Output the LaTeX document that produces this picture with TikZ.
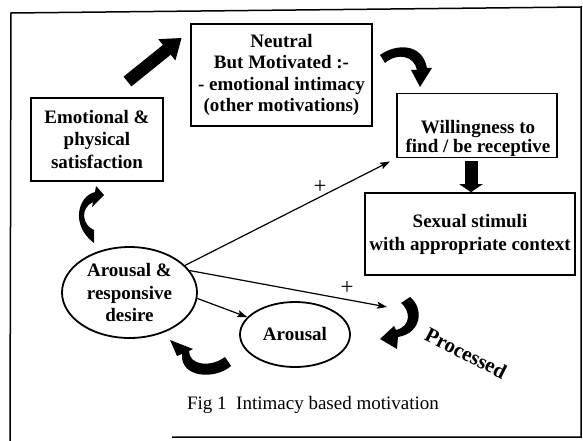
\documentclass[tikz,border=0pt]{standalone}
\usepackage{fontspec}
\setmainfont{Liberation Serif}
\usetikzlibrary{arrows.meta,shapes.geometric,calc}
\begin{document}
\begin{tikzpicture}[x=1pt,y=-1pt,
  box/.style={draw, line width=1.6pt, rectangle, inner sep=0pt, align=center, font=\bfseries\fontsize{19}{22}\selectfont},
  boxtext/.style={inner sep=0pt, align=center, font=\bfseries\fontsize{19}{19}\selectfont},
  oval/.style={draw, line width=1.8pt, ellipse, inner sep=0pt, align=center, font=\bfseries\fontsize{19}{22.5}\selectfont},
  conn/.style={line width=1.2pt, -{Stealth[length=10pt,width=7pt,inset=2pt]}},
  bigarrow/.style={line width=12.5pt, -{Triangle[length=19pt,width=26pt]}},
  downarrow/.style={line width=13pt, -{Triangle[length=8pt,width=23pt]}},
  curl/.style={fill=black},
  plainlabel/.style={inner sep=0pt, font=\fontsize{19}{22}\selectfont},
  pluslabel/.style={inner sep=0pt, font=\fontsize{23}{24}\selectfont},
]
\useasboundingbox (0,0) rectangle (583,441);
% frame
\draw[line width=1.5pt] (10,441) -- (11,13) -- (581,7) -- (581,437) -- (172,437);
% nodes
\node[box, minimum width=181pt, minimum height=102pt, font=\bfseries\fontsize{19}{21.5}\selectfont] (neutral) at (281.5,75)
  {Neutral\\But Motivated :-\\- emotional intimacy\\(other motivations)};
\node[box, minimum width=132pt, minimum height=83pt, font=\bfseries\fontsize{19}{22.5}\selectfont] (emo) at (97,139.5)
  {Emotional \&\\physical\\satisfaction};
\node[box, minimum width=160pt, minimum height=64pt] (will) at (477,125.5) {};
\node[boxtext] (willtext) at (478,138) {Willingness to\\find / be receptive};
\node[box, minimum width=210pt, minimum height=82pt, font=\bfseries\fontsize{19}{23}\selectfont] (stim) at (470,234)
  {Sexual stimuli\\with appropriate context};
\node[oval, minimum width=135pt, minimum height=91pt] (desire) at (129.5,292.5)
  {Arousal \&\\responsive\\desire};
\node[oval, minimum width=110pt, minimum height=65pt] (arousal) at (295,334.5) {Arousal};
\node[plainlabel] (caption) at (313,405) {Fig 1\ \ Intimacy based motivation};
\node[inner sep=0pt, font=\bfseries\fontsize{21}{24}\selectfont, rotate=-27] (proc) at (466,353) {Processed};
\node[pluslabel] (plus1) at (320,187) {+};
\node[pluslabel] (plus2) at (347,288) {+};
% connectors
\coordinate (ptip) at (387,307);
\draw[conn, shorten >=7pt] (desire.26) -- (will.south west);
\draw[conn] (desire.20) -- (ptip);
\draw[conn] (desire.-5) -- (arousal.160);
% block arrows
\draw[bigarrow, shorten <=25pt, shorten >=11pt] ([xshift=11pt]emo.north) -- ([yshift=44pt]neutral.west);
\draw[downarrow, shorten <=3pt] ([xshift=-6pt]will.south) -- ([xshift=-6pt]will.south |- stim.north);
% curled arrows
\fill[curl] (104,195) -- (92,207) -- (93,202) .. controls (80,208) and (82,225) .. (94,230)
  -- (94,243) .. controls (70,225) and (78,196) .. (95,192) -- (96,186) -- cycle;
\fill[curl] (380,55) .. controls (395,44) and (422,42) .. (427,68) -- (432,68) -- (420,87) -- (411,70) -- (417,70)
  .. controls (414,56) and (398,52) .. (385,63) -- cycle;
\fill[curl] (170,340) -- (193,349) -- (189,351) .. controls (189,365) and (210,368) .. (225,357)
  -- (231,366) .. controls (215,380) and (180,378) .. (182,354) -- (177,356) -- cycle;
\fill[curl] (410,297) .. controls (424,308) and (422,333) .. (398,337) -- (397,349) -- (380,339) -- (394,326)
  -- (396,330) .. controls (412,326) and (410,310) .. (401,303) -- cycle;
\end{tikzpicture}
\end{document}
